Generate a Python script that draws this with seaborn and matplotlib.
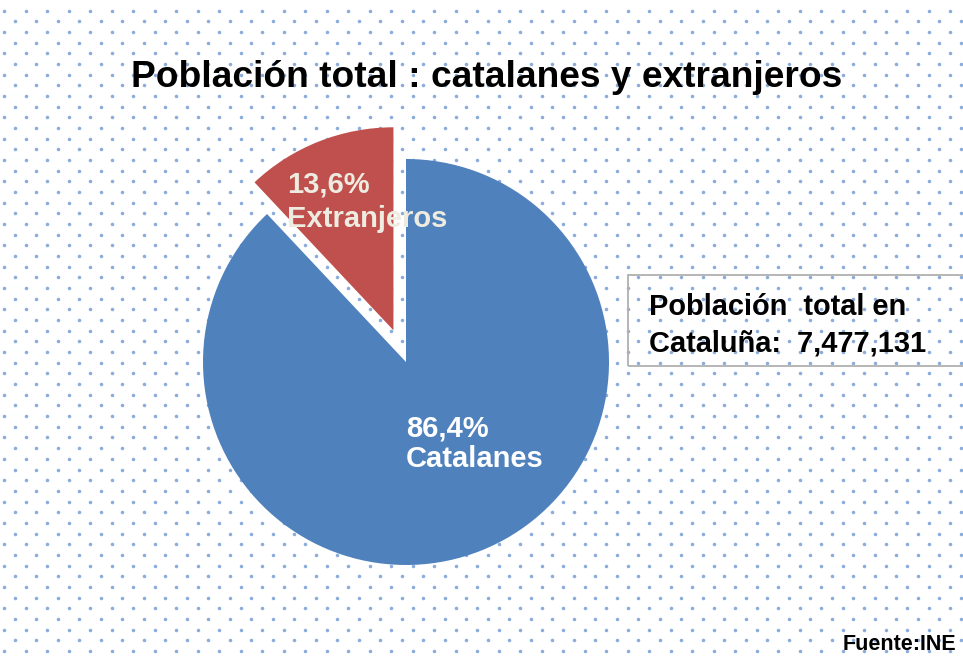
import numpy as np
import matplotlib
matplotlib.use("Agg")
import matplotlib.pyplot as plt
from matplotlib.patches import Rectangle
import seaborn as sns

# ---- data ----
categories = ["Extranjeros", "Catalanes"]
shares = [12.0, 88.0]          # slice sizes as drawn in the picture
pct_labels = ["13,6%", "86,4%"]  # labels as printed
total_label = "7,477,131"
title = "Población total : catalanes y extranjeros"
source = "Fuente:INE"

sns.set_theme(style="white")
plt.rcParams["font.family"] = ["Liberation Sans", "DejaVu Sans"]

W, H = 963, 656
fig = plt.figure(figsize=(W / 100, H / 100), dpi=100)
fig.patch.set_facecolor("white")

# background dotted pattern
bg = fig.add_axes([0, 0, 1, 1], zorder=0)
bg.set_xlim(0, W)
bg.set_ylim(H, 0)
bg.axis("off")
rows = np.arange(10.7, H + 10, 10.67)
xs, ys = [], []
for i, yy in enumerate(rows):
    x0 = 25.7 if i % 2 == 0 else 14.6
    xx = np.arange(x0 - 21.5 * 2, W + 10, 21.5)
    xs.extend(xx)
    ys.extend([yy] * len(xx))
bg.scatter(xs, ys, s=6.5, color="#6d98d4", linewidths=0, alpha=0.8)

# pie axes: center (406,362) px, radius 203 px
R = 203
span = 1.25
cx, cy = 406, 362
ax = fig.add_axes([(cx - span * R) / W, (H - cy - span * R) / H,
                   2 * span * R / W, 2 * span * R / H], zorder=1)
ax.set_facecolor("none")
colors = ["#C0504D", "#4F81BD"]
ax.pie(shares, colors=colors, startangle=90, counterclock=True,
       explode=[0.168, 0.0], radius=1.0,
       wedgeprops=dict(linewidth=0))
ax.set_xlim(-span, span)
ax.set_ylim(-span, span)
ax.set_aspect("equal")
ax.axis("off")

def d(px, py):
    return ((px - cx) / R, (cy - py) / R)

lab_fs = 21
x, y = d(287, 193)
ax.text(x, y, pct_labels[0], color="#EEEBE0", fontsize=lab_fs, fontweight="bold", ha="left", va="baseline")
x, y = d(287, 227)
ax.text(x, y, categories[0], color="#EEEBE0", fontsize=lab_fs, fontweight="bold", ha="left", va="baseline")
x, y = d(406, 437)
ax.text(x, y, pct_labels[1], color="white", fontsize=lab_fs, fontweight="bold", ha="left", va="baseline")
x, y = d(406, 467)
ax.text(x, y, categories[1], color="white", fontsize=lab_fs, fontweight="bold", ha="left", va="baseline")

# title
fig.text(487 / W, 1 - 87 / H, title, ha="center", va="baseline",
         fontsize=26.7, fontweight="bold", color="black")

# info box
fig.patches.append(Rectangle((628 / W, 1 - 366 / H), (W + 20 - 628) / W, 91 / H,
                             transform=fig.transFigure, fill=False,
                             edgecolor="#B0B0B0", linewidth=1.3, zorder=2))
fig.text(649 / W, 1 - 315 / H, "Población  total en", ha="left", va="baseline",
         fontsize=20.9, fontweight="bold", color="black")
fig.text(649 / W, 1 - 351 / H, "Cataluña:  " + total_label, ha="left", va="baseline",
         fontsize=20.9, fontweight="bold", color="black")

# source
fig.text(956 / W, 1 - 650 / H, source, ha="right", va="baseline",
         fontsize=15.5, fontweight="bold", color="black")

fig.savefig("out.png", dpi=100)
